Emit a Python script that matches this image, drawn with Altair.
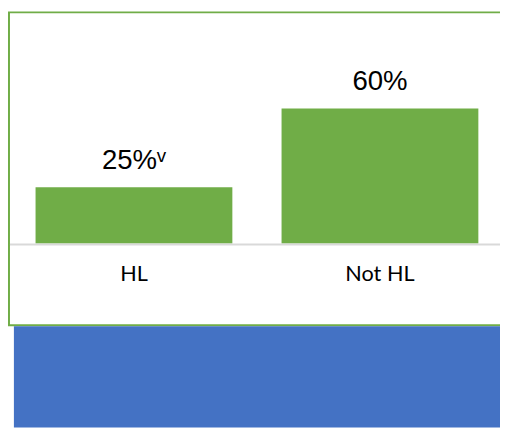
import altair as alt
import pandas as pd

categories = ["HL", "Not HL"]
values = [25, 60]
value_labels = ["25%\u1d5b", "60%"]

GREEN = "#70AD47"
BLUE = "#4472C4"

df = pd.DataFrame({"cat": categories, "val": values, "lab": value_labels, "zero": [0, 0]})

xs = alt.Scale(domain=categories, range=[3, 503], paddingInner=0.2, paddingOuter=0.1)
ys = alt.Scale(domain=[0, 100], range=[236, 7])

base = alt.Chart(df)
one = pd.DataFrame({"k": [0]})

frame = alt.Chart(one).mark_rect(
    fill="transparent", stroke=GREEN, strokeWidth=2
).encode(x=alt.value(1), x2=alt.value(540), y=alt.value(1), y2=alt.value(319))

blue = alt.Chart(one).mark_rect(fill=BLUE).encode(
    x=alt.value(6), x2=alt.value(500), y=alt.value(320), y2=alt.value(423)
)

bars = base.mark_bar(color=GREEN).encode(
    x=alt.X("cat:N", scale=xs, axis=None, sort=categories),
    y=alt.Y("val:Q", scale=ys, axis=None),
)

axisline = alt.Chart(one).mark_rule(
    color="#d9d9d9", strokeWidth=2
).encode(y=alt.value(237), x=alt.value(2), x2=alt.value(500))

vlabels = base.mark_text(
    font="Liberation Sans", fontSize=28, baseline="alphabetic", align="center", dy=-19, color="#000000"
).encode(
    x=alt.X("cat:N", scale=xs, axis=None, sort=categories),
    y=alt.Y("val:Q", scale=ys, axis=None),
    text="lab:N",
)

clabels = base.mark_text(
    font="Lato", fontSize=22, baseline="alphabetic", align="center", dy=38, color="#000000"
).encode(
    x=alt.X("cat:N", scale=xs, axis=None, sort=categories),
    y=alt.Y("zero:Q", scale=ys, axis=None),
    text="cat:N",
)

chart = alt.layer(frame, blue, bars, axisline, vlabels, clabels).properties(
    width=500, height=423, padding=0, autosize=alt.AutoSizeParams(type="none"),
    background="white",
).configure_view(stroke=None)

chart.save("out.html", embed_options={"renderer": "svg", "actions": False})
